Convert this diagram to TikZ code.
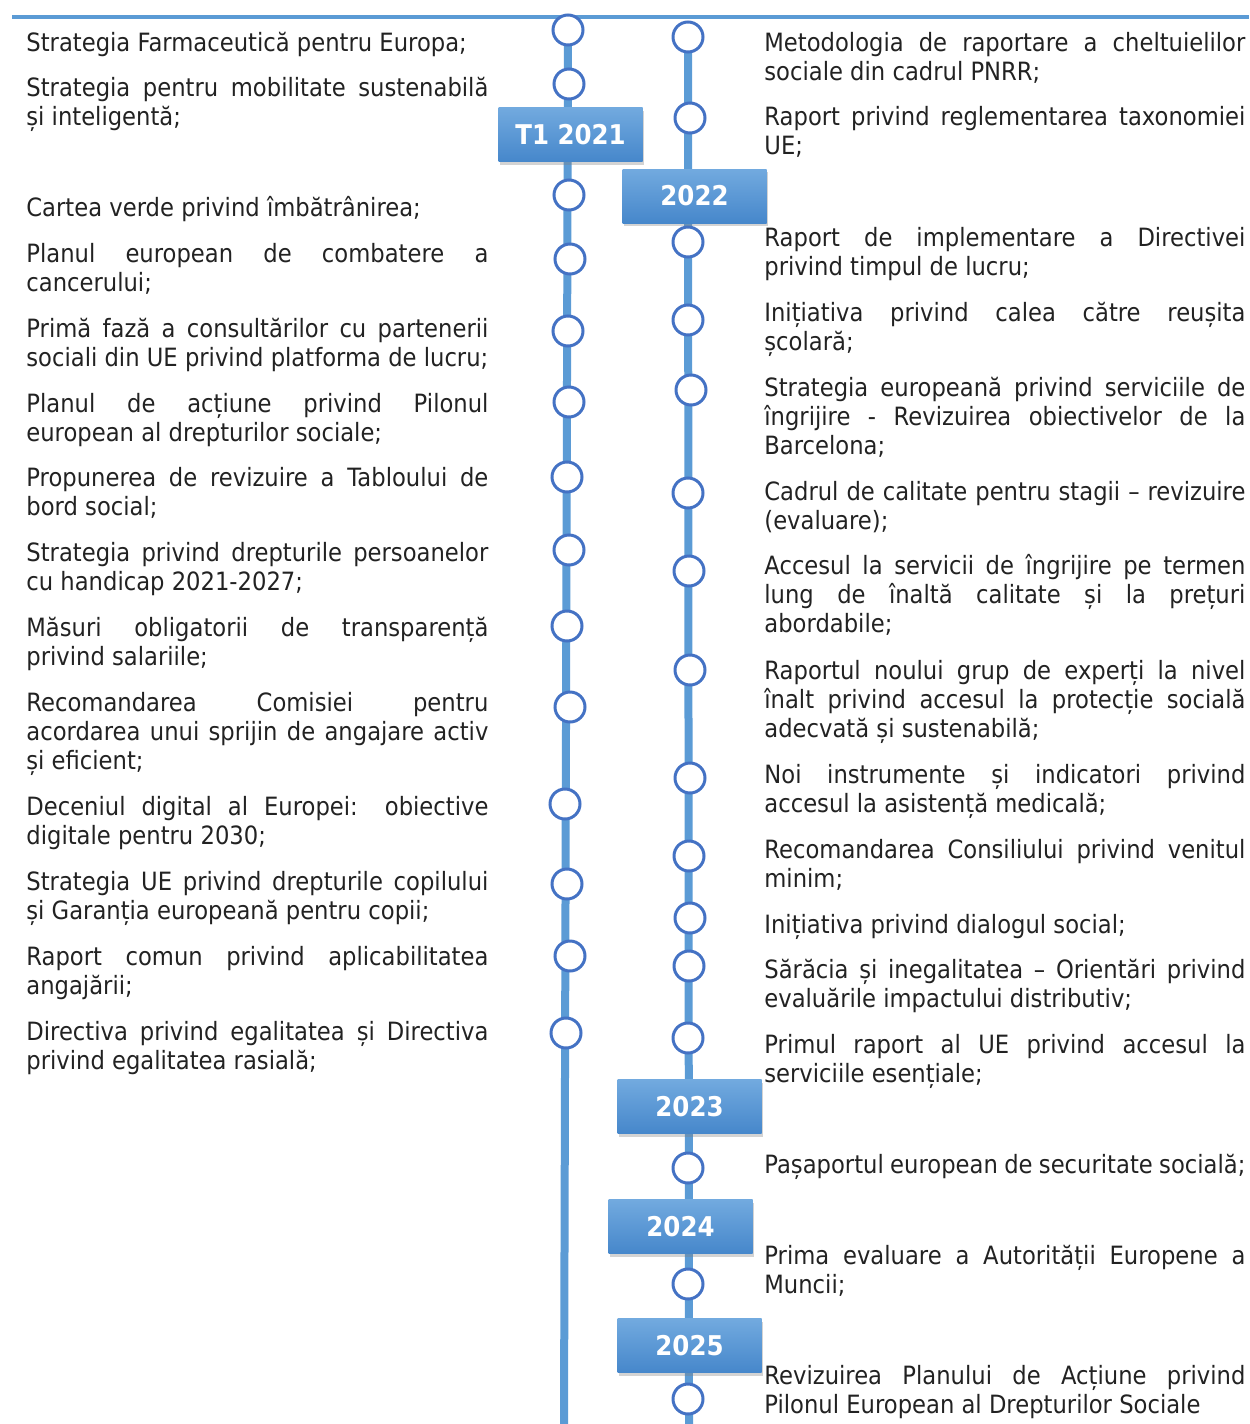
\documentclass[tikz,border=0pt]{standalone}
\usepackage{fontspec}
\setmainfont{DejaVu Sans}[FakeStretch=0.9]
\definecolor{RailBlue}{RGB}{91, 155, 213}
\definecolor{RingBlue}{RGB}{68, 114, 196}
\definecolor{BoxTop}{RGB}{114, 170, 223}
\definecolor{BoxBottom}{RGB}{70, 135, 203}
\definecolor{InkGray}{RGB}{34, 34, 34}
\usetikzlibrary{positioning, shadows, backgrounds}

\begin{document}
\begin{tikzpicture}[x=0.5pt, y=-0.5pt,
    every node/.style={font=\fontsize{12.6}{14.65}\selectfont, text=InkGray},
    rail/.style={draw=RailBlue, line width=4pt},
    ring/.style={circle, draw=RingBlue, line width=1.5pt, fill=white, minimum size=15pt, inner sep=0pt},
    yearbox/.style={rectangle, minimum width=72pt, minimum height=27pt, inner sep=0pt,
        top color=BoxTop, bottom color=BoxBottom, text=white,
        font=\fontsize{13.6}{15}\selectfont\bfseries,
        drop shadow={shadow xshift=0.8pt, shadow yshift=-1.5pt, opacity=0.35}},
    itemL/.style={anchor=base west, inner sep=0pt, align=justify, text width=231pt},
    itemR/.style={anchor=base west, inner sep=0pt, align=justify, text width=240.5pt}]
\useasboundingbox (0,0) rectangle (1249,1424);

% line across the top
\coordinate (topL) at (12,17);
\coordinate (topR) at (1249,17);
\draw[draw=RailBlue, line width=2pt] (topL) -- (topR);

% milestones on both rails
\foreach \n/\x/\y in {1/568/30, 2/569/84, 3/569/195, 4/570/259, 5/568/331, 6/569/402,
    7/567/477, 8/569/550, 9/567/626, 10/570/707, 11/565/804, 12/567/884, 13/570/956, 14/566/1033}
  \node[ring] (cl\n) at (\x,\y) {};
\foreach \n/\x/\y in {1/688/37, 2/690/118, 3/688/242, 4/688/320, 5/691/390, 6/688/493,
    7/689/571, 8/690/670, 9/690/778, 10/689/856, 11/690/918, 12/689/966, 13/688/1038,
    14/688/1168, 15/688/1284, 16/688/1399}
  \node[ring] (cr\n) at (\x,\y) {};

\node[yearbox] (y2021) at (570.5,134.5) {T1 2021};
\node[yearbox] (y2022) at (694.5,196) {2022};
\node[yearbox] (y2023) at (689.5,1106.5) {2023};
\node[yearbox] (y2024) at (680.5,1226.5) {2024};
\node[yearbox] (y2025) at (689.5,1345.5) {2025};

\coordinate (railLend) at (564,1424);
\coordinate (railRend) at (689,1424);
\begin{scope}[on background layer]
\draw[rail] (cl1.center) -- (railLend);
\draw[rail] (cr1.center) -- (railRend);
\end{scope}

% left column
\node[itemL] (l1) at (26,51) {Strategia Farmaceutică pentru Europa;};
\node[itemL] (l2) at (26,96) {Strategia pentru mobilitate sustenabilă\linebreak și inteligentă;};
\node[itemL] (l3) at (26,216) {Cartea verde privind îmbătrânirea;};
\node[itemL] (l4) at (26,262) {Planul european de combatere a\linebreak cancerului;};
\node[itemL] (l5) at (26,337) {Primă fază a consultărilor cu partenerii\linebreak sociali din UE privind platforma de lucru;};
\node[itemL] (l6) at (26,412) {Planul de acțiune privind Pilonul\linebreak european al drepturilor sociale;};
\node[itemL] (l7) at (26,486) {Propunerea de revizuire a Tabloului de\linebreak bord social;};
\node[itemL] (l8) at (26,561) {Strategia privind drepturile persoanelor\linebreak cu handicap 2021-2027;};
\node[itemL] (l9) at (26,636) {Măsuri obligatorii de transparență\linebreak privind salariile;};
\node[itemL] (l10) at (26,711) {Recomandarea Comisiei pentru\linebreak acordarea unui sprijin de angajare activ\linebreak și eficient;};
\node[itemL] (l11) at (26,815) {Deceniul digital al Europei: obiective\linebreak digitale pentru 2030;};
\node[itemL] (l12) at (26,890) {Strategia UE privind drepturile copilului\linebreak și Garanția europeană pentru copii;};
\node[itemL] (l13) at (26,965) {Raport comun privind aplicabilitatea\linebreak angajării;};
\node[itemL] (l14) at (26,1040) {Directiva privind egalitatea și Directiva\linebreak privind egalitatea rasială;};

% right column
\node[itemR] (r1) at (764,51) {Metodologia de raportare a cheltuielilor\linebreak sociale din cadrul PNRR;};
\node[itemR] (r2) at (764,125) {Raport privind reglementarea taxonomiei\linebreak UE;};
\node[itemR] (r3) at (764,246) {Raport de implementare a Directivei\linebreak privind timpul de lucru;};
\node[itemR] (r4) at (764,321) {Inițiativa privind calea către reușita\linebreak școlară;};
\node[itemR] (r5) at (764,396) {Strategia europeană privind serviciile de\linebreak îngrijire - Revizuirea obiectivelor de la\linebreak Barcelona;};
\node[itemR] (r6) at (764,500) {Cadrul de calitate pentru stagii – revizuire\linebreak (evaluare);};
\node[itemR] (r7) at (764,574) {Accesul la servicii de îngrijire pe termen\linebreak lung de înaltă calitate și la prețuri\linebreak abordabile;};
\node[itemR] (r8) at (764,679) {Raportul noului grup de experți la nivel\linebreak înalt privind accesul la protecție socială\linebreak adecvată și sustenabilă;};
\node[itemR] (r9) at (764,783) {Noi instrumente și indicatori privind\linebreak accesul la asistență medicală;};
\node[itemR] (r10) at (764,858) {Recomandarea Consiliului privind venitul\linebreak minim;};
\node[itemR] (r11) at (764,933) {Inițiativa privind dialogul social;};
\node[itemR] (r12) at (764,978) {Sărăcia și inegalitatea – Orientări privind\linebreak evaluările impactului distributiv;};
\node[itemR] (r13) at (764,1053) {Primul raport al UE privind accesul la\linebreak serviciile esențiale;};
\node[itemR] (r14) at (764,1173) {Pașaportul european de securitate socială;};
\node[itemR] (r15) at (764,1264) {Prima evaluare a Autorității Europene a\linebreak Muncii;};
\node[itemR] (r16) at (764,1384) {Revizuirea Planului de Acțiune privind\linebreak Pilonul European al Drepturilor Sociale};
\end{tikzpicture}
\end{document}
